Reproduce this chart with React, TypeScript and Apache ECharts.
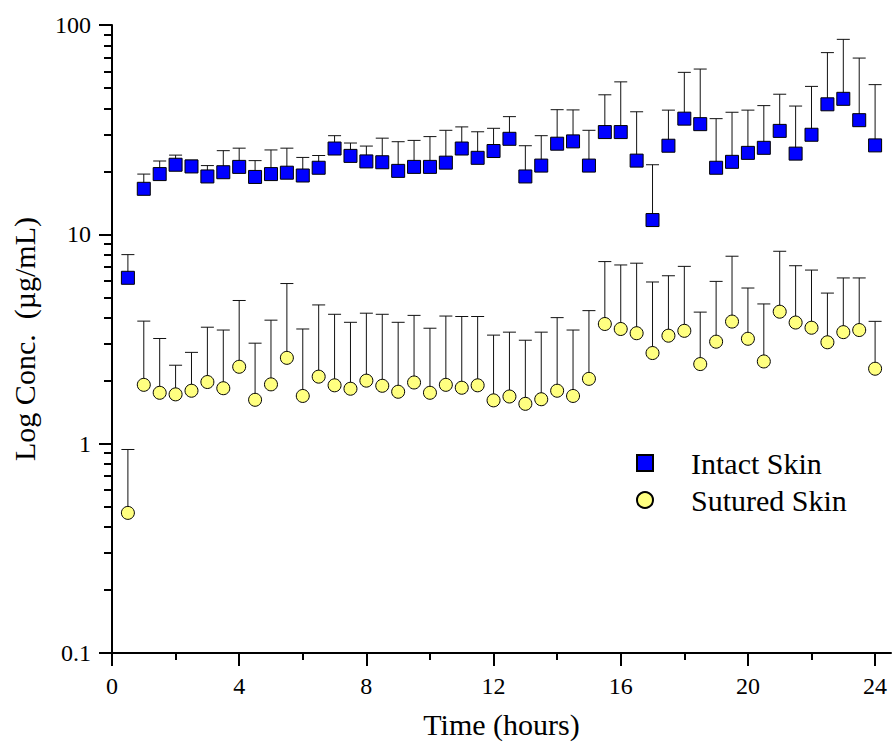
import React, { useEffect, useRef } from "react";
import * as echarts from "echarts";

const times = [
  0.5, 1, 1.5, 2, 2.5, 3, 3.5, 4, 4.5, 5, 5.5, 6, 6.5, 7, 7.5, 8, 8.5, 9, 9.5, 10,
  10.5, 11, 11.5, 12, 12.5, 13, 13.5, 14, 14.5, 15, 15.5, 16, 16.5, 17, 17.5, 18,
  18.5, 19, 19.5, 20, 20.5, 21, 21.5, 22, 22.5, 23, 23.5, 24,
];

const intactMean = [
  6.2, 16.5, 19.4, 21.5, 21.1, 18.9, 19.8, 21.0, 18.8, 19.4, 19.7, 19.1, 20.8, 25.7,
  23.7, 22.3, 22.1, 20.1, 21.0, 21.0, 22.0, 25.7, 23.2, 25.0, 28.6, 18.9, 21.3, 27.1,
  27.8, 21.3, 30.8, 30.8, 22.5, 11.7, 26.5, 35.7, 33.6, 20.8, 22.2, 24.5, 25.9, 31.2,
  24.3, 29.9, 41.8, 44.4, 35.1, 26.6,
];
const intactUpper = [
  8.0, 19.4, 22.4, 23.9, 22.6, 21.3, 25.1, 25.8, 22.5, 25.3, 25.8, 23.3, 23.8, 29.6,
  27.3, 26.4, 28.8, 27.7, 28.1, 29.3, 31.4, 32.6, 30.9, 32.1, 36.5, 26.5, 29.6, 39.4,
  39.3, 31.4, 46.4, 53.5, 38.5, 21.5, 39.2, 59.4, 61.6, 35.7, 38.3, 39.2, 41.2, 46.7,
  41.0, 50.9, 73.8, 85.4, 69.5, 51.9,
];

const suturedMean = [
  0.467, 1.91, 1.75, 1.72, 1.79, 1.97, 1.84, 2.33, 1.62, 1.92, 2.57, 1.69, 2.09, 1.90,
  1.83, 2.0, 1.89, 1.77, 1.96, 1.75, 1.91, 1.85, 1.90, 1.61, 1.68, 1.55, 1.63, 1.79,
  1.69, 2.04, 3.73, 3.53, 3.37, 2.71, 3.28, 3.46, 2.40, 3.07, 3.83, 3.17, 2.47, 4.27,
  3.79, 3.58, 3.05, 3.41, 3.49, 2.28,
];
const suturedUpper = [
  0.938, 3.85, 3.18, 2.37, 2.73, 3.60, 3.49, 4.83, 3.02, 3.89, 5.82, 3.53, 4.60, 4.15,
  3.80, 4.20, 4.15, 3.80, 4.10, 3.56, 4.07, 4.05, 4.05, 3.30, 3.41, 3.12, 3.41, 4.00,
  3.49, 4.32, 7.41, 7.14, 7.28, 5.92, 6.34, 7.03, 4.25, 5.96, 7.86, 5.54, 4.65, 8.30,
  7.08, 6.75, 5.24, 6.19, 6.19, 3.84,
];

const xMajorTicks = [0, 4, 8, 12, 16, 20, 24];
const xMinorTicks = [2, 6, 10, 14, 18, 22];
const yMajorTicks = [0.1, 1, 10, 100];
const yMinorTicks = [
  0.2, 0.3, 0.4, 0.5, 0.6, 0.7, 0.8, 0.9, 2, 3, 4, 5, 6, 7, 8, 9, 20, 30, 40, 50,
  60, 70, 80, 90,
];

const seriesNames = ["Intact Skin", "Sutured Skin"];

const FONT = "'Liberation Serif', 'Times New Roman', serif";

export default function App() {
  const ref = useRef<HTMLDivElement>(null);

  useEffect(() => {
    if (!ref.current) return;
    const chart = echarts.init(ref.current, null, { renderer: "svg" });

    const errItem = (params: any, api: any) => {
      const x = api.value(0);
      const y = api.value(1);
      const u = api.value(2);
      const p0 = api.coord([x, y]);
      const p1 = api.coord([x, u]);
      const style = { stroke: "#111", lineWidth: 1 };
      return {
        type: "group",
        children: [
          { type: "line", shape: { x1: p0[0], y1: p0[1], x2: p1[0], y2: p1[1] }, style },
          { type: "line", shape: { x1: p1[0] - 6.5, y1: p1[1], x2: p1[0] + 6.5, y2: p1[1] }, style },
        ],
      };
    };

    const intactErr = times.map((t, i) => [t, intactMean[i], intactUpper[i]]);
    const suturedErr = times.map((t, i) => [t, suturedMean[i], suturedUpper[i]]);

    const axisLineStyle = { color: "#000", width: 2 };
    const tickLabel = {
      color: "#000",
      fontSize: 24,
      fontFamily: FONT,
      formatter: (v: number) => String(v),
    };

    chart.setOption({
      animation: false,
      backgroundColor: "#fff",
      textStyle: { fontFamily: FONT, color: "#000" },
      grid: { left: 112, top: 25, right: 2, bottom: 97, containLabel: false },
      legend: {
        data: seriesNames,
        orient: "vertical",
        left: 636,
        top: 448,
        padding: 0,
        itemWidth: 16,
        itemHeight: 16,
        itemGap: 7,
        textStyle: {
          color: "#000",
          fontSize: 30,
          fontFamily: FONT,
          lineHeight: 30,
          padding: [0, 0, 0, 33],
        },
      },
      xAxis: [
        {
          type: "value",
          min: 0,
          max: 24.5,
          interval: 4,
          position: "bottom",
          name: "Time (hours)",
          nameLocation: "middle",
          nameGap: 56,
          nameTextStyle: { color: "#000", fontSize: 30, fontFamily: FONT },
          axisLine: { show: true, lineStyle: axisLineStyle },
          axisTick: {
            show: true,
            length: 13,
            inside: false,
            lineStyle: axisLineStyle,
            customValues: xMajorTicks,
          },
          axisLabel: { ...tickLabel, margin: 21, customValues: xMajorTicks },
          splitLine: { show: false },
        },
        {
          type: "value",
          min: 0,
          max: 24.5,
          position: "bottom",
          axisLine: { show: false },
          axisTick: {
            show: true,
            length: 7,
            inside: false,
            lineStyle: axisLineStyle,
            customValues: xMinorTicks,
          },
          axisLabel: { show: false },
          splitLine: { show: false },
        },
      ],
      yAxis: [
        {
          type: "log",
          logBase: 10,
          min: 0.1,
          max: 100,
          position: "left",
          name: "Log Conc.  (\u00b5g/mL)",
          nameLocation: "middle",
          nameGap: 73,
          nameTextStyle: { color: "#000", fontSize: 30, fontFamily: FONT },
          axisLine: { show: true, lineStyle: axisLineStyle },
          axisTick: {
            show: true,
            length: 13,
            inside: false,
            lineStyle: axisLineStyle,
            customValues: yMajorTicks,
          },
          axisLabel: { ...tickLabel, margin: 21, customValues: yMajorTicks },
          splitLine: { show: false },
        },
        {
          type: "log",
          logBase: 10,
          min: 0.1,
          max: 100,
          position: "left",
          axisLine: { show: false },
          axisTick: {
            show: true,
            length: 8,
            inside: false,
            lineStyle: axisLineStyle,
            customValues: yMinorTicks,
          },
          axisLabel: { show: false },
          splitLine: { show: false },
        },
      ],
      series: [
        {
          name: "Intact err",
          type: "custom",
          xAxisIndex: 0,
          yAxisIndex: 0,
          data: intactErr,
          encode: { x: 0, y: [1, 2] },
          renderItem: errItem,
          silent: true,
        },
        {
          name: "Sutured err",
          type: "custom",
          xAxisIndex: 0,
          yAxisIndex: 0,
          data: suturedErr,
          encode: { x: 0, y: [1, 2] },
          renderItem: errItem,
          silent: true,
        },
        {
          name: seriesNames[0],
          type: "scatter",
          xAxisIndex: 0,
          yAxisIndex: 0,
          symbol: "rect",
          symbolSize: 13,
          data: times.map((t, i) => [t, intactMean[i]]),
          itemStyle: { color: "#0000FF", borderColor: "#000", borderWidth: 1, opacity: 1 },
        },
        {
          name: seriesNames[1],
          type: "scatter",
          xAxisIndex: 0,
          yAxisIndex: 0,
          symbol: "circle",
          symbolSize: 13,
          data: times.map((t, i) => [t, suturedMean[i]]),
          itemStyle: { color: "#FFFF80", borderColor: "#000", borderWidth: 1, opacity: 1 },
        },
      ],
    });

    return () => chart.dispose();
  }, []);

  return (
    <div
      ref={ref}
      style={{ position: "fixed", left: 0, top: 0, width: 893, height: 750, background: "#fff" }}
    />
  );
}
